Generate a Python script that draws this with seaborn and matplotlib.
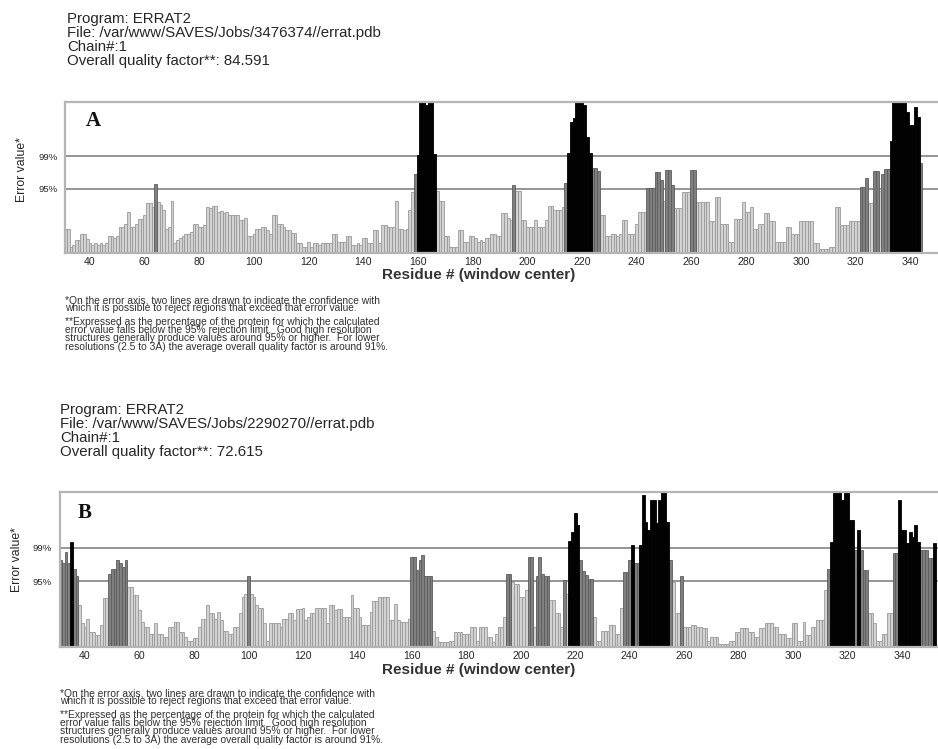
import numpy as np
import pandas as pd
import matplotlib
matplotlib.use("Agg")
import matplotlib.pyplot as plt
from matplotlib.colors import to_hex
import seaborn as sns

# ---------------------------------------------------------------------------
# ERRAT2 error values, one per residue (window center)
# ---------------------------------------------------------------------------
first_residue_a = 31
errat_a = [
    4.3, 4.3, 1.1, 1.4, 2.3, 2.3, 3.4, 3.4, 2.5, 1.7,        # 31-40
    1.4, 1.7, 1.5, 1.7, 1.5, 1.7, 3.0, 3.0, 2.7, 3.0,        # 41-50
    4.7, 4.7, 5.1, 7.3, 4.7, 4.7, 5.2, 6.1, 6.1, 6.8,        # 51-60
    8.8, 8.8, 8.2, 12.3, 9.1, 8.5, 7.6, 4.3, 4.6, 9.3,       # 61-70
    1.7, 2.3, 2.6, 3.0, 3.4, 3.4, 3.8, 5.2, 5.2, 4.7,        # 71-80
    4.7, 5.0, 8.2, 8.0, 8.4, 8.4, 7.3, 7.5, 7.1, 7.3,        # 81-90
    6.7, 6.8, 6.8, 6.7, 5.8, 5.8, 6.3, 3.0, 3.0, 3.4,        # 91-100
    4.3, 4.3, 4.7, 4.7, 4.1, 3.4, 6.7, 6.7, 5.2, 5.2,        # 101-110
    4.6, 4.1, 4.1, 3.5, 3.5, 1.7, 1.7, 1.1, 1.1, 2.0,        # 111-120
    1.1, 1.7, 1.7, 1.4, 1.7, 1.7, 1.7, 1.7, 3.4, 3.4,        # 121-130
    2.0, 2.0, 2.0, 3.0, 3.0, 1.5, 1.5, 1.7, 1.5, 2.6,        # 131-140
    2.6, 1.7, 1.7, 4.1, 4.1, 1.7, 5.0, 5.0, 4.6, 4.7,        # 141-150
    4.7, 9.3, 4.3, 4.3, 4.1, 4.3, 7.6, 10.8, 14.0, 17.4,     # 151-160
    26.8, 26.8, 26.2, 26.8, 26.8, 17.5, 11.0, 9.3, 9.3, 3.0, # 161-170
    3.0, 1.1, 1.1, 1.1, 4.1, 4.1, 2.0, 2.0, 3.0, 3.0,        # 171-180
    2.7, 2.0, 2.3, 2.0, 2.6, 2.6, 3.4, 3.4, 3.0, 3.0,        # 181-190
    7.1, 7.1, 6.3, 5.8, 12.1, 11.0, 11.0, 5.8, 5.8, 4.7,     # 191-200
    4.7, 4.7, 5.8, 4.7, 4.7, 4.7, 5.8, 8.4, 8.4, 7.6,        # 201-210
    7.6, 7.6, 8.2, 12.5, 17.8, 23.3, 23.9, 26.8, 26.8, 26.8, # 211-220
    26.2, 20.5, 17.8, 15.1, 15.1, 14.6, 6.7, 6.7, 3.0, 3.0,  # 221-230
    3.4, 3.4, 3.0, 3.4, 5.8, 5.8, 3.4, 3.4, 3.4, 5.1,        # 231-240
    7.3, 7.3, 7.3, 11.6, 11.6, 11.6, 14.3, 14.3, 12.9, 9.3,  # 241-250
    14.8, 14.8, 12.0, 8.0, 8.0, 8.0, 10.8, 10.8, 10.8, 14.7, # 251-260
    14.7, 9.1, 9.1, 9.1, 9.1, 9.1, 5.6, 5.6, 9.9, 9.9,       # 261-270
    5.2, 5.2, 5.2, 2.0, 2.0, 6.1, 6.1, 6.1, 9.1, 7.3,        # 271-280
    7.3, 8.2, 4.3, 4.3, 5.2, 5.2, 7.1, 7.1, 5.7, 5.7,        # 281-290
    2.0, 2.0, 2.0, 2.0, 4.6, 4.6, 3.4, 3.4, 3.4, 5.7,        # 291-300
    5.7, 5.7, 5.7, 5.7, 1.7, 1.7, 0.7, 0.7, 0.7, 0.7,        # 301-310
    1.1, 1.1, 8.2, 8.2, 5.0, 5.0, 5.0, 5.7, 5.7, 5.7,        # 311-320
    5.7, 11.7, 11.7, 13.3, 8.8, 8.8, 14.5, 14.5, 11.0, 14.1, # 321-330
    14.9, 14.9, 19.8, 26.8, 26.8, 26.8, 26.8, 26.8, 25.0, 22.8,  # 331-340
    22.8, 25.9, 24.2, 16.0,                                  # 341-344
]

first_residue_b = 31
errat_b = [
    15.0, 14.5, 16.5, 14.5, 18.2, 13.5, 12.2, 7.2, 4.1, 3.4,     # 31-40
    4.9, 2.6, 2.6, 2.0, 2.0, 3.8, 8.4, 8.4, 12.7, 13.5,          # 41-50
    13.5, 15.0, 14.5, 13.9, 15.0, 10.4, 10.4, 9.0, 9.0, 6.4,     # 51-60
    4.3, 3.4, 3.4, 2.3, 2.3, 4.1, 2.3, 2.3, 1.7, 1.7,            # 61-70
    3.4, 3.4, 4.3, 4.3, 2.6, 2.6, 1.7, 1.1, 1.1, 1.5,            # 71-80
    1.5, 3.4, 4.9, 4.9, 7.2, 5.8, 5.8, 4.9, 6.0, 4.6,            # 81-90
    2.8, 2.8, 2.3, 2.3, 3.4, 3.4, 5.8, 8.6, 9.2, 12.2,           # 91-100
    9.2, 8.6, 7.2, 6.8, 6.8, 4.1, 1.1, 4.1, 4.1, 4.1,            # 101-110
    4.1, 3.4, 4.9, 4.9, 5.8, 5.8, 4.6, 6.6, 6.6, 6.8,            # 111-120
    4.6, 5.2, 5.8, 5.8, 6.8, 6.8, 6.8, 6.8, 4.1, 7.2,            # 121-130
    7.2, 6.4, 6.6, 6.6, 5.2, 5.2, 5.2, 9.0, 6.8, 6.8,            # 131-140
    5.2, 3.8, 3.8, 3.8, 6.0, 7.9, 7.9, 8.6, 8.6, 8.6,            # 141-150
    8.6, 4.6, 4.6, 7.5, 4.6, 4.3, 4.3, 4.3, 4.9, 15.6,           # 151-160
    15.6, 13.3, 15.0, 15.9, 12.2, 12.2, 12.2, 2.8, 1.7, 0.9,     # 161-170
    0.9, 0.9, 0.9, 1.1, 1.1, 2.6, 2.6, 2.6, 2.3, 2.3,            # 171-180
    2.3, 3.4, 3.4, 1.1, 3.4, 3.4, 3.4, 1.7, 1.7, 0.9,            # 181-190
    2.3, 3.4, 3.4, 5.2, 12.7, 12.7, 11.2, 10.9, 10.9, 8.6,       # 191-200
    8.6, 9.8, 15.6, 15.6, 3.4, 12.2, 15.6, 12.7, 12.2, 12.2,     # 201-210
    8.1, 8.1, 5.8, 5.8, 3.4, 11.6, 9.2, 18.4, 19.9, 23.1,        # 211-220
    21.1, 15.0, 13.1, 12.5, 11.8, 11.8, 5.2, 1.1, 1.1, 2.8,      # 221-230
    2.8, 2.8, 3.8, 3.8, 2.3, 2.3, 6.8, 13.0, 13.0, 15.0,         # 231-240
    17.6, 14.5, 14.5, 17.6, 26.3, 21.6, 20.2, 25.4, 25.4, 21.4,  # 241-250
    25.4, 26.8, 26.8, 21.6, 15.0, 11.3, 5.8, 5.8, 12.2, 3.4,     # 251-260
    3.4, 3.4, 3.8, 3.8, 3.4, 3.4, 3.2, 3.2, 1.1, 1.7,            # 261-270
    1.7, 1.7, 0.6, 0.6, 0.6, 0.6, 1.1, 1.1, 2.6, 2.6,            # 271-280
    3.2, 3.2, 3.2, 2.6, 2.6, 1.7, 1.7, 3.2, 3.2, 4.1,            # 281-290
    4.1, 4.1, 3.4, 3.4, 2.3, 2.3, 2.3, 1.5, 1.5, 4.1,            # 291-300
    4.1, 1.1, 1.1, 4.3, 2.0, 2.0, 3.4, 3.4, 4.7, 4.7,            # 301-310
    4.7, 9.8, 13.5, 18.2, 26.8, 26.8, 26.8, 25.4, 26.8, 26.8,    # 311-320
    22.0, 22.0, 16.7, 20.2, 16.7, 13.3, 13.3, 5.8, 5.8, 4.1,     # 321-330
    1.1, 1.1, 2.3, 2.3, 5.8, 5.8, 16.2, 16.2, 25.4, 20.2,        # 331-340
    20.2, 17.9, 19.9, 19.1, 21.1, 18.2, 16.7, 16.7, 16.7, 15.4,  # 341-350
    15.4, 17.9,                                                  # 351-352
]

# rejection limits drawn on the error axis
limit_95 = 11.38
limit_99 = 17.19
limit_labels = ["95%", "99%"]
residue_ticks = list(range(40, 341, 20))

header_a = ["Program: ERRAT2",
            "File: /var/www/SAVES/Jobs/3476374//errat.pdb",
            "Chain#:1",
            "Overall quality factor**: 84.591"]
header_b = ["Program: ERRAT2",
            "File: /var/www/SAVES/Jobs/2290270//errat.pdb",
            "Chain#:1",
            "Overall quality factor**: 72.615"]
footnote_axis = [
    "*On the error axis, two lines are drawn to indicate the confidence with",
    "which it is possible to reject regions that exceed that error value.",
]
footnote_quality = [
    "**Expressed as the percentage of the protein for which the calculated",
    "error value falls below the 95% rejection limit.  Good high resolution",
    "structures generally produce values around 95% or higher.  For lower",
    "resolutions (2.5 to 3A) the average overall quality factor is around 91%.",
]

# ---------------------------------------------------------------------------
sns.set_style("white")
plt.rcParams["font.family"] = ["Liberation Sans", "DejaVu Sans"]

W, H = 938, 749
fig = plt.figure(figsize=(W / 100, H / 100), dpi=100)
fig.patch.set_facecolor("white")

bar_fill = {"below": "#d2d2d2", "p95": "#7f7f7f", "p99": "#030303"}
bar_edge = {to_hex(v): e for v, e in zip(bar_fill.values(),
                                          ["#9a9a9a", "#5c5c5c", "#000000"])}
TEXT = "#262626"


def fx(x):
    return x / W


def fy(y):
    return 1 - y / H


def classify(values):
    v = np.asarray(values)
    return np.where(v > limit_99, "p99", np.where(v > limit_95, "p95", "below"))


def draw_panel(box, first, values, xlim, letter, letter_xy, ylab_xy, ypad,
               xlabel_gap):
    left, top, right, bottom = box
    ax = fig.add_axes([fx(left), fy(bottom), fx(right - left), (bottom - top) / H])
    residues = np.arange(first, first + len(values))
    df = pd.DataFrame({"residue": residues, "error": values,
                       "level": classify(values)})
    sns.barplot(data=df, x="residue", y="error", hue="level",
                hue_order=["below", "p95", "p99"], palette=bar_fill,
                native_scale=True, width=1.0, dodge=False, errorbar=None,
                saturation=1, legend=False, linewidth=0.6, ax=ax, zorder=2)
    for patch in ax.patches:
        patch.set_edgecolor(bar_edge.get(to_hex(patch.get_facecolor()), "#9a9a9a"))

    for lim in (limit_95, limit_99):
        ax.axhline(lim, color="#8c8c8c", lw=1.3, zorder=1)

    ax.set_xlim(*xlim)
    ax.set_ylim(0, 26.8)
    ax.set_xticks(residue_ticks)
    ax.set_xticklabels([str(t) for t in residue_ticks])
    ax.set_yticks([limit_95, limit_99])
    ax.set_yticklabels(limit_labels)
    ax.tick_params(axis="x", length=0, pad=3, labelsize=7.6, labelcolor=TEXT)
    ax.tick_params(axis="y", length=0, pad=ypad, labelsize=6.8, labelcolor=TEXT)
    ax.set_xlabel("")
    ax.set_ylabel("")
    for side in ("top", "left", "bottom"):
        ax.spines[side].set_color("#b5b5b5")
        ax.spines[side].set_linewidth(1.6)
    ax.spines["right"].set_visible(False)

    fig.text(fx(letter_xy[0]), fy(letter_xy[1]), letter, fontsize=15,
             fontweight="bold", family=["Liberation Serif", "DejaVu Serif"],
             ha="center", va="center", color="#111111")
    fig.text(fx(ylab_xy[0]), fy(ylab_xy[1]), "Error value*", rotation=90,
             fontsize=8.8, ha="center", va="center", color=TEXT)
    fig.text(fx(479), fy(bottom + xlabel_gap), "Residue # (window center)",
             fontsize=11, fontweight="bold", ha="center", va="center",
             color="#333333")
    return ax


def draw_header(x, center_y, lines):
    fig.text(fx(x), fy(center_y), "\n".join(lines), fontsize=10.8,
             linespacing=1.0, ha="left", va="center", color=TEXT)


def draw_footnote(x, top_axis, top_quality):
    for top, lines in ((top_axis, footnote_axis), (top_quality, footnote_quality)):
        fig.text(fx(x), fy(top), "\n".join(lines), fontsize=7.4,
                 linespacing=0.78, ha="left", va="top", color="#303030")


# panel A
draw_header(67, 40, header_a)
draw_panel((65, 102, 938, 253), first_residue_a, errat_a, (30.85, 350.2),
           "A", (93, 121), (22, 170), 5, 22)
draw_footnote(65, 295, 317)

# panel B
draw_header(60, 431, header_b)
draw_panel((60, 492, 938, 647), first_residue_b, errat_b, (30.8, 353.2),
           "B", (85, 513), (17, 560), 6, 23)
draw_footnote(60, 688, 710)

fig.savefig("out.png", dpi=100, facecolor="white")
